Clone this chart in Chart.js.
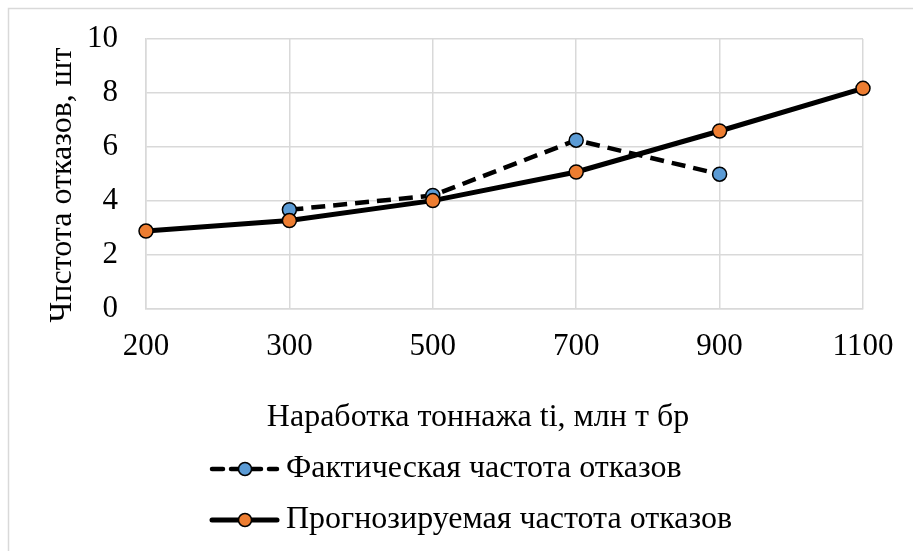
<!DOCTYPE html>
<html>
<head>
<meta charset="utf-8">
<script src="https://cdn.jsdelivr.net/npm/chart.js@4.4.1/dist/chart.umd.min.js"></script>
<style>
  body { margin: 0; background: #fff; }
  #wrap { width: 913px; height: 551px; }
</style>
</head>
<body>
<div id="wrap"><canvas id="grafico"></canvas></div>
<script>
// Datos
const categorias = ['200', '300', '500', '700', '900', '1100'];
const fakticheskaya = [null, 3.67, 4.2, 6.25, 4.99, null];
const prognoz = [2.88, 3.27, 4.01, 5.07, 6.59, 8.17];
const ticksY = [0, 2, 4, 6, 8, 10];

const nombreFakt = 'Фактическая частота отказов';
const nombrePrognoz = 'Прогнозируемая частота отказов';
const tituloX = 'Наработка тоннажа ti, млн т бр';
const tituloY = 'Чпстота отказов, шт';

const fuente = 'Liberation Serif, Times New Roman, serif';
const gris = '#d9d9d9';

// Marco, títulos de ejes y leyenda dibujados a mano
const extras = {
  id: 'extras',
  beforeDraw(chart) {
    const c = chart.ctx;
    c.save();
    c.strokeStyle = gris;
    c.lineWidth = 1.5;
    c.beginPath();
    c.moveTo(8.5, 551);
    c.lineTo(8.5, 8.5);
    c.lineTo(913, 8.5);
    c.stroke();
    c.restore();
  },
  afterDraw(chart) {
    const c = chart.ctx;
    c.save();
    c.fillStyle = '#000';
    c.font = '32px ' + fuente;
    c.textBaseline = 'middle';
    c.textAlign = 'center';
    c.fillText(tituloX, 478, 418);

    // título del eje Y (girado)
    c.save();
    c.translate(63, 185);
    c.rotate(-Math.PI / 2);
    c.fillText(tituloY, 0, 0);
    c.restore();

    const filas = [
      { texto: nombreFakt, y: 469, dash: [11, 8], ancho: 4.5, color: '#5B9BD5' },
      { texto: nombrePrognoz, y: 520, dash: [], ancho: 5, color: '#ED7D31' }
    ];
    filas.forEach(f => {
      c.strokeStyle = '#000';
      c.lineWidth = f.ancho;
      c.lineCap = 'round';
      c.setLineDash(f.dash);
      c.beginPath();
      c.moveTo(212, f.y);
      c.lineTo(277, f.y);
      c.stroke();
      c.setLineDash([]);
      c.beginPath();
      c.arc(245, f.y, 6.5, 0, Math.PI * 2);
      c.fillStyle = f.color;
      c.fill();
      c.lineWidth = 1.5;
      c.stroke();
      c.fillStyle = '#000';
      c.textAlign = 'left';
      c.fillText(f.texto, 286, f.y);
    });
    c.restore();
  }
};

const ctx = document.getElementById('grafico').getContext('2d');
const grafico = new Chart(ctx, {
  type: 'line',
  data: {
    labels: categorias,
    datasets: [
      {
        label: nombrePrognoz,
        data: prognoz,
        borderColor: '#000',
        borderWidth: 5,
        pointRadius: 7,
        pointBackgroundColor: '#ED7D31',
        pointBorderColor: '#000',
        pointBorderWidth: 1.5,
        tension: 0,
        fill: false
      },
      {
        label: nombreFakt,
        data: fakticheskaya,
        borderColor: '#000',
        borderWidth: 4.5,
        borderDash: [14, 8],
        pointRadius: 7,
        pointBackgroundColor: '#5B9BD5',
        pointBorderColor: '#000',
        pointBorderWidth: 1.5,
        tension: 0,
        fill: false
      }
    ]
  },
  options: {
    responsive: true,
    maintainAspectRatio: false,
    animation: false,
    layout: { padding: { left: 0, right: 50, top: 39, bottom: 166 } },
    plugins: {
      legend: { display: false },
      tooltip: { enabled: false }
    },
    scales: {
      x: {
        offset: false,
        grid: { color: gris, lineWidth: 1.5, drawTicks: false },
        border: { color: gris, width: 1.5 },
        ticks: { color: '#000', font: { family: fuente, size: 31 }, padding: 19.5, maxRotation: 0 }
      },
      y: {
        min: 0,
        max: 10,
        afterBuildTicks: s => { s.ticks = ticksY.map(v => ({ value: v })); },
        afterFit: s => {
          s.width = 146;
          s.paddingTop = 18;
          s.paddingBottom = 18;
        },
        grid: { color: gris, lineWidth: 1.5, drawTicks: false },
        border: { color: gris, width: 1.5 },
        ticks: { color: '#000', font: { family: fuente, size: 31 }, padding: 28 }
      }
    }
  },
  plugins: [extras]
});
</script>
</body>
</html>
